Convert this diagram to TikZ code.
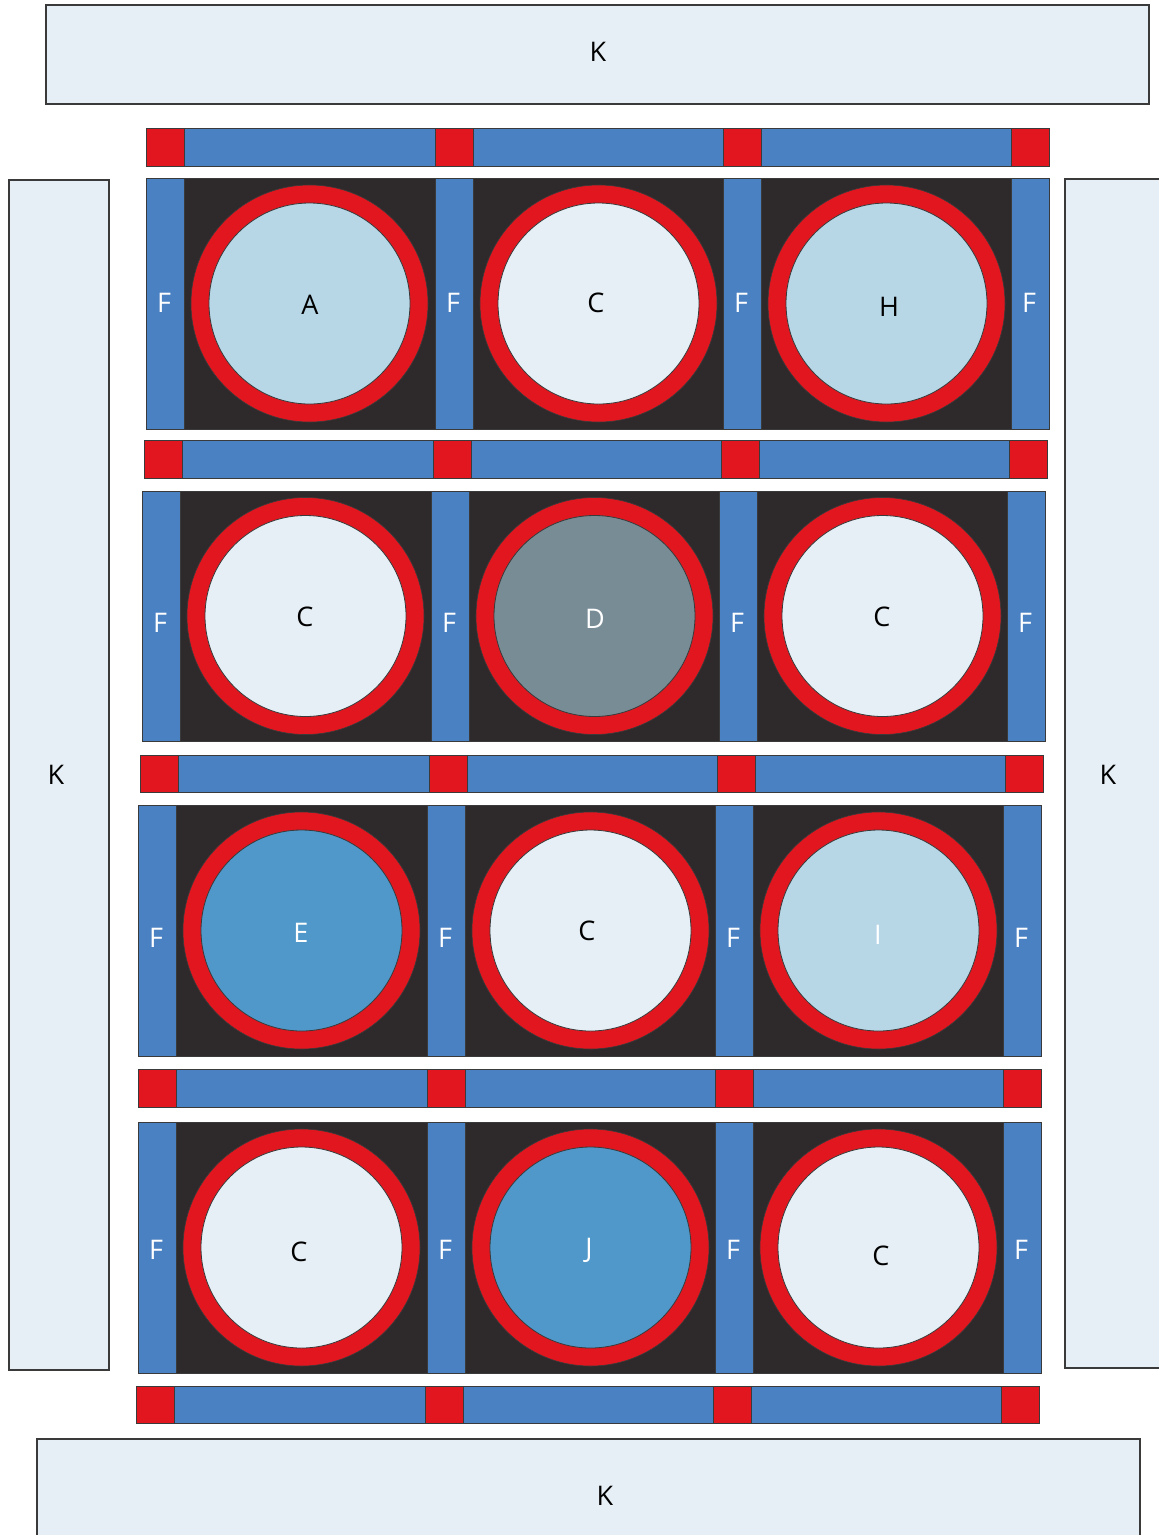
\documentclass[tikz,border=0pt]{standalone}
\usepackage{fontspec}
\setmainfont{Open Sans}
\definecolor{kfill}{HTML}{E6EFF5}
\definecolor{fblue}{HTML}{4A81C2}
\definecolor{rred}{HTML}{E1161F}
\definecolor{dark}{HTML}{2E2A2B}
\definecolor{edge}{HTML}{3A3A3A}
\definecolor{lblue}{HTML}{B7D7E6}
\definecolor{dgrey}{HTML}{788C96}
\definecolor{mblue}{HTML}{4F98C9}
\begin{document}
\begin{tikzpicture}[x=1pt,y=-1pt,
  kbox/.style={draw=edge,fill=kfill,line width=1.2pt},
  fbar/.style={draw=edge,fill=fblue,line width=0.8pt},
  rsq/.style={draw=edge,fill=rred,line width=0.8pt},
  cell/.style={draw=edge,fill=dark,line width=0.8pt},
  ring/.style={draw=edge,fill=rred,line width=0.6pt},
  core/.style={draw=edge,line width=0.8pt},
  lab/.style={font=\fontsize{27}{30}\selectfont,inner sep=0pt},
  wlab/.style={lab,text=white}]
\useasboundingbox (0,0) rectangle (1159,1535);
% K boxes
\draw[kbox] (46,5) rectangle (1149,104);
\node[lab] (ktop) at (598,52) {K};
\draw[kbox] (9,180) rectangle (109,1370);
\node[lab] (kleft) at (56,775) {K};
\draw[kbox] (1065,179) rectangle (1170,1368);
\node[lab] (kright) at (1108,775) {K};
\draw[kbox] (37,1439) rectangle (1140,1545);
\node[lab] (kbot) at (605,1496) {K};
% horizontal bars: x0, ytop, ybottom
\foreach \x/\ya/\yb [count=\i] in {146/128/166, 144/440/478, 140/755/792, 138/1069/1107, 136/1386/1423}{
  \draw[fbar] (\x,\ya) rectangle (\x+903,\yb);
  \foreach \k in {0,289,577,865}{
    \draw[rsq] (\x+\k,\ya) rectangle (\x+\k+38,\yb);
  }
}
% blocks: x0, ytop, ybottom
\foreach \x/\ya/\yb in {146/178/429, 142/491/741, 138/805/1056, 138/1122/1373}{
  \draw[cell] (\x,\ya) rectangle (\x+903,\yb);
  \foreach \k in {0,289,577,865}{
    \draw[fbar] (\x+\k,\ya) rectangle (\x+\k+38,\yb);
  }
  \foreach \k in {0,289,577}{
    \draw[ring] (\x+\k+163.5,{(\ya+\yb)/2}) circle (118.5);
  }
}
% cores: cx, cy, colour
\foreach \cx/\cy/\col in {309.5/303.5/lblue, 598.5/303.5/kfill, 886.5/303.5/lblue,
  305.5/616/kfill, 594.5/616/dgrey, 882.5/616/kfill,
  301.5/930.5/mblue, 590.5/930.5/kfill, 878.5/930.5/lblue,
  301.5/1247.5/kfill, 590.5/1247.5/mblue, 878.5/1247.5/kfill}{
  \draw[core,fill=\col] (\cx,\cy) circle (100.5);
}
% circle labels
\node[lab] (a) at (310,305) {A};
\node[lab] (c1) at (596,303) {C};
\node[lab] (h) at (889,307) {H};
\node[lab] (c2) at (305,617) {C};
\node[wlab] (d) at (595,619) {D};
\node[lab] (c3) at (882,617) {C};
\node[wlab] (e) at (301,933) {E};
\node[lab] (c4) at (587,931) {C};
\node[wlab] (i) at (878,935) {I};
\node[lab] (c5) at (299,1252) {C};
\node[wlab] (j) at (589,1250) {J};
\node[lab] (c6) at (881,1256) {C};
% F labels
\foreach \x/\y [count=\n] in {146/303, 142/623, 138/938, 138/1250}{
  \foreach \k [count=\m] in {0,289,577,865}{
    \node[wlab] (f\n\m) at (\x+\k+18,\y) {F};
  }
}
\end{tikzpicture}
\end{document}
